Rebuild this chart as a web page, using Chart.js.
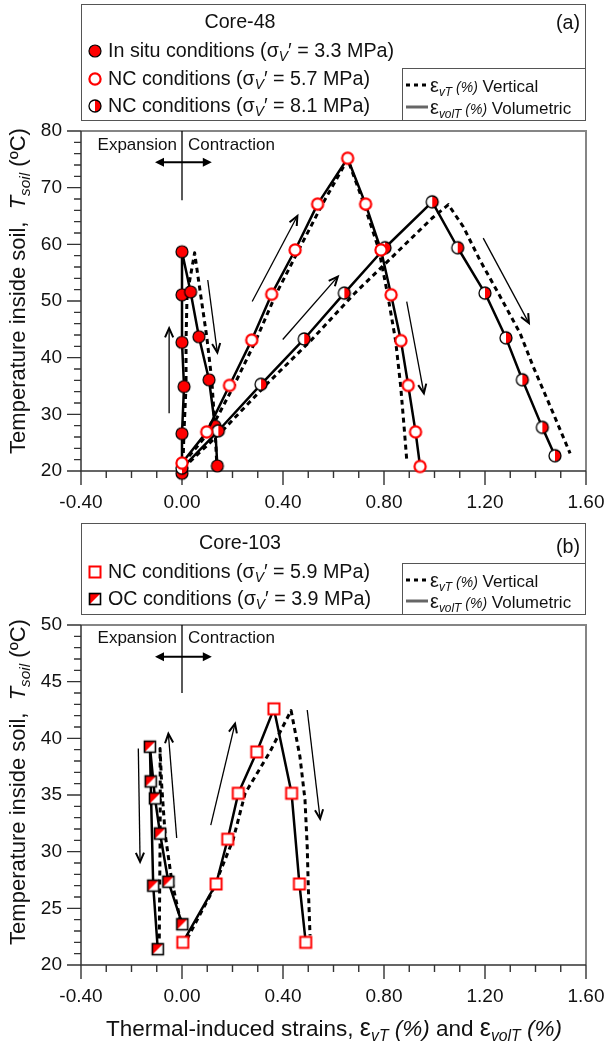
<!DOCTYPE html>
<html><head><meta charset="utf-8">
<script src="https://cdn.jsdelivr.net/npm/chart.js@4.4.1/dist/chart.umd.min.js"></script>
<style>
html,body{margin:0;padding:0;background:#fff}
body{width:605px;height:1046px;position:relative;overflow:hidden;font-family:"Liberation Sans",Arial,sans-serif;color:#111}
canvas{position:absolute;left:0}
.box{position:absolute;box-sizing:border-box;border:1.5px solid #555}
.t{position:absolute;white-space:nowrap;line-height:1;transform:translateY(-50%);font-size:19.7px}
.c{transform:translate(-50%,-50%)}
.s{font-size:0.7em;font-style:italic;position:relative;top:0.32em}
.it{font-style:italic}
.yt{position:absolute;white-space:nowrap;line-height:1;font-size:22px;transform:translate(-50%,-50%) rotate(-90deg)}
.ll{font-size:17px}
.eps{font-size:20px}
.pc{font-size:14px;font-style:italic}
</style></head>
<body>
<canvas id="ca" width="605" height="510" style="top:0"></canvas>
<canvas id="cb" width="605" height="536" style="top:510px"></canvas>

<div class="box" style="left:81px;top:4px;width:505px;height:117px"></div>
<div class="box" style="left:402px;top:68px;width:184px;height:53px"></div>
<div class="t c" style="left:240px;top:22px">Core-48</div>
<div class="t" style="right:25px;top:23px">(a)</div>
<div class="t" style="left:108px;top:51px">In situ conditions (σ<span class="s">V</span>′ = 3.3 MPa)</div>
<div class="t" style="left:108px;top:79px">NC conditions (σ<span class="s">V</span>′ = 5.7 MPa)</div>
<div class="t" style="left:108px;top:106px">NC conditions (σ<span class="s">V</span>′ = 8.1 MPa)</div>
<div class="t ll" style="left:430px;top:85px"><span class="eps">ε</span><span class="s">vT</span><span class="pc"> (%)</span> Vertical</div>
<div class="t ll" style="left:430px;top:107px"><span class="eps">ε</span><span class="s">volT</span><span class="pc"> (%)</span> Volumetric</div>

<div class="box" style="left:81px;top:523px;width:505px;height:92px"></div>
<div class="box" style="left:402px;top:563px;width:184px;height:52px"></div>
<div class="t c" style="left:240px;top:543px">Core-103</div>
<div class="t" style="right:25px;top:547px">(b)</div>
<div class="t" style="left:108px;top:572px">NC conditions (σ<span class="s">V</span>′ = 5.9 MPa)</div>
<div class="t" style="left:108px;top:599px">OC conditions (σ<span class="s">V</span>′ = 3.9 MPa)</div>
<div class="t ll" style="left:430px;top:580px"><span class="eps">ε</span><span class="s">vT</span><span class="pc"> (%)</span> Vertical</div>
<div class="t ll" style="left:430px;top:601px"><span class="eps">ε</span><span class="s">volT</span><span class="pc"> (%)</span> Volumetric</div>

<div class="yt" style="left:18px;top:291px">Temperature inside soil,&nbsp; <span class="it">T</span><span class="s">soil</span> (ºC)</div>
<div class="yt" style="left:18px;top:782px">Temperature inside soil,&nbsp; <span class="it">T</span><span class="s">soil</span> (ºC)</div>
<div class="t c" style="left:334px;top:1028px;font-size:22.5px">Thermal-induced strains, <span class="eps" style="font-size:25px">ε</span><span class="s">vT</span> <span class="it">(%)</span> and <span class="eps" style="font-size:25px">ε</span><span class="s">volT</span> <span class="it">(%)</span></div>

<canvas id="ov" width="605" height="1046" style="top:0;pointer-events:none"></canvas>

<script>
// ---------- data ----------
const xTicks = [-0.4, 0, 0.4, 0.8, 1.2, 1.6];
const yTicksA = [20, 30, 40, 50, 60, 70, 80];
const yTicksB = [20, 25, 30, 35, 40, 45, 50];

// Core-48, in situ (3.3 MPa)
const inSituX  = [0.000, 0.000, 0.008, 0.000, 0.000, 0.000, 0.034, 0.067, 0.107, 0.131, 0.140];
const inSituT  = [19.6, 26.6, 34.9, 42.7, 51.1, 58.7, 51.6, 43.7, 36.1, 27.9, 20.9];
const inSituVX = [0.003, 0.008, 0.016, 0.016, 0.020, 0.050, 0.066, 0.098, 0.118, 0.130, 0.138];
const inSituVT = [20.0, 27.0, 35.0, 43.0, 51.0, 58.5, 53.5, 43.7, 36.0, 28.0, 21.0];
// Core-48, NC (5.7 MPa)
const nc57X  = [0.000, 0.098, 0.188, 0.276, 0.355, 0.448, 0.537, 0.656, 0.727, 0.788, 0.828, 0.867, 0.896, 0.925, 0.943];
const nc57T  = [21.4, 26.9, 35.1, 43.1, 51.2, 59.0, 67.1, 75.2, 67.1, 59.0, 51.1, 43.0, 35.1, 26.9, 20.8];
const nc57VX = [0.005, 0.110, 0.205, 0.292, 0.370, 0.462, 0.555, 0.656, 0.722, 0.780, 0.815, 0.846, 0.866, 0.881, 0.890];
const nc57VT = [21.4, 27.0, 35.0, 43.0, 51.0, 59.0, 67.0, 75.0, 67.0, 59.0, 51.0, 43.0, 35.0, 27.0, 22.0];
// Core-48, NC (8.1 MPa)
const nc81X  = [0.000, 0.144, 0.313, 0.484, 0.643, 0.804, 0.991, 1.092, 1.200, 1.283, 1.348, 1.427, 1.477];
const nc81T  = [20.5, 27.1, 35.3, 43.3, 51.4, 59.4, 67.5, 59.4, 51.4, 43.5, 36.1, 27.7, 22.7];
const nc81VX = [0.005, 0.160, 0.335, 0.510, 0.685, 0.870, 0.990, 1.055, 1.114, 1.180, 1.260, 1.339, 1.391, 1.470, 1.537];
const nc81VT = [20.5, 27.1, 35.3, 43.0, 51.4, 59.4, 64.6, 67.0, 63.1, 57.2, 50.8, 44.3, 38.4, 30.2, 23.1];
// Core-103, NC (5.9 MPa)
const nc59X  = [0.003, 0.135, 0.181, 0.223, 0.296, 0.364, 0.434, 0.465, 0.490];
const nc59T  = [22.0, 27.15, 31.1, 35.15, 38.8, 42.6, 35.15, 27.15, 22.0];
const nc59VX = [0.020, 0.120, 0.203, 0.250, 0.348, 0.432, 0.467, 0.487, 0.496, 0.500, 0.507];
const nc59VT = [22.3, 26.5, 31.1, 35.15, 38.8, 42.45, 38.4, 34.6, 30.4, 27.0, 22.6];
// Core-103, OC (3.9 MPa)
const oc39X  = [0.001, -0.054, -0.087, -0.107, -0.127, -0.124, -0.114, -0.096];
const oc39T  = [23.6, 27.35, 31.6, 34.7, 39.26, 36.2, 27.0, 21.4];
const oc39VX = [-0.005, -0.041, -0.067, -0.080, -0.087, -0.086, -0.087, -0.090];
const oc39VT = [23.8, 27.5, 31.6, 35.7, 39.1, 35.0, 30.4, 22.2];

// annotation arrows [x1, T1, x2, T2] (head at second point)
const arrowsA = [[-0.051, 30.2, -0.051, 45.2], [0.102, 53.7, 0.140, 40.9], [0.278, 49.9, 0.457, 65.0],
                 [0.399, 43.2, 0.617, 54.3], [0.890, 49.9, 0.958, 33.7], [1.193, 61.1, 1.374, 46.1]];
const arrowsB = [[-0.173, 39.1, -0.166, 29.1], [-0.021, 31.2, -0.054, 40.4], [0.114, 32.35, 0.210, 41.3],
                 [0.496, 42.5, 0.547, 32.9]];
// expansion/contraction marker: [vertical line end T, arrow T, text T]
const expA = [67.8, 74.5, 77.4];
const expB = [44.0, 47.2, 48.8];
const expX = [-0.107, 0.118, -0.020, 0.024];

// ---------- drawing ----------
const FONT = "'Liberation Sans', Arial, sans-serif";
const RED = '#ff0000';
function drawMarker(g, kind, cx, cy){
  g.save();
  if (kind === 'inSitu'){
    g.beginPath(); g.arc(cx,cy,6,0,Math.PI*2); g.fillStyle=RED; g.fill();
    g.lineWidth=1.2; g.strokeStyle='#000'; g.stroke();
  } else if (kind === 'nc57'){
    g.beginPath(); g.arc(cx,cy,5.6,0,Math.PI*2); g.fillStyle='#fff'; g.fill();
    g.lineWidth=2.2; g.strokeStyle=RED; g.stroke();
  } else if (kind === 'nc81'){
    g.beginPath(); g.arc(cx,cy,6,0,Math.PI*2); g.fillStyle='#fff'; g.fill();
    g.beginPath(); g.arc(cx,cy,6,-Math.PI/2,Math.PI/2); g.closePath(); g.fillStyle=RED; g.fill();
    g.beginPath(); g.arc(cx,cy,6,0,Math.PI*2); g.lineWidth=1.3; g.strokeStyle='#000'; g.stroke();
  } else if (kind === 'nc59'){
    g.fillStyle='#fff'; g.fillRect(cx-5.5,cy-5.5,11,11);
    g.lineWidth=2; g.strokeStyle=RED; g.strokeRect(cx-5.5,cy-5.5,11,11);
  } else if (kind === 'oc39'){
    const h=5.5;
    g.fillStyle='#fff'; g.fillRect(cx-h,cy-h,2*h,2*h);
    g.beginPath(); g.moveTo(cx-h,cy-h); g.lineTo(cx+h,cy-h); g.lineTo(cx-h,cy+h); g.closePath();
    g.fillStyle=RED; g.fill();
    g.lineWidth=1.6; g.strokeStyle='#000'; g.strokeRect(cx-h,cy-h,2*h,2*h);
  }
  g.restore();
}
function markerImg(kind){
  const c=document.createElement('canvas'); c.width=c.height=18;
  drawMarker(c.getContext('2d'),kind,9,9); return c;
}
const IMG = {};
['inSitu','nc57','nc81','nc59','oc39'].forEach(k=>IMG[k]=markerImg(k));

function pts(xs, ys){ return xs.map((x,i)=>({x:x, y:ys[i]})); }
function solid(xs, ys, img, order){
  return {data:pts(xs,ys), showLine:true, borderColor:'#000', borderWidth:2.5, backgroundColor:'#000',
    pointStyle:img, pointRadius:7, pointHoverRadius:7, clip:false, tension:0, order:order,
    borderJoinStyle:'round'};
}
function dashed(xs, ys){
  return {data:pts(xs,ys), showLine:true, borderColor:'#000', borderWidth:3, borderDash:[5,4],
    pointRadius:0, clip:false, tension:0, order:10, borderJoinStyle:'round'};
}

function arrowV(ctx, x1, y1, x2, y2){
  const a = Math.atan2(y2-y1, x2-x1), h = 10, s = 0.42;
  ctx.lineWidth = 1.3;
  ctx.beginPath(); ctx.moveTo(x1,y1); ctx.lineTo(x2,y2); ctx.stroke();
  ctx.lineWidth = 2;
  ctx.beginPath();
  ctx.moveTo(x2 - h*Math.cos(a-s), y2 - h*Math.sin(a-s)); ctx.lineTo(x2,y2);
  ctx.lineTo(x2 - h*Math.cos(a+s), y2 - h*Math.sin(a+s));
  ctx.stroke();
}
function triHead(ctx, x, y, dir){
  ctx.beginPath(); ctx.moveTo(x,y); ctx.lineTo(x-dir*9,y-4.5); ctx.lineTo(x-dir*9,y+4.5); ctx.closePath(); ctx.fill();
}

const decoPlugin = {
  id:'deco',
  beforeDatasetsDraw(chart){
    const o = chart.options.plugins.deco;
    const {ctx, chartArea:a, scales:{x, y}} = chart;
    ctx.save();
    // frame
    ctx.strokeStyle='#858585'; ctx.lineWidth=2;
    ctx.beginPath(); ctx.moveTo(a.left, a.top); ctx.lineTo(a.right, a.top); ctx.lineTo(a.right, a.bottom); ctx.stroke();
    ctx.strokeStyle='#333'; ctx.lineWidth=1.5;
    ctx.beginPath(); ctx.moveTo(a.left, a.top); ctx.lineTo(a.left, a.bottom); ctx.lineTo(a.right, a.bottom); ctx.stroke();
    // ticks
    ctx.lineWidth=1.4;
    ctx.beginPath();
    for (let i=0;i<=20;i++){
      const px = x.getPixelForValue(-0.4 + i*0.1);
      const len = (i%4===0) ? 14 : 7;
      ctx.moveTo(px, a.bottom); ctx.lineTo(px, a.bottom+len);
    }
    const ymin = y.min, ymax = y.max;
    const n = Math.round((ymax-ymin)/o.yMinor);
    for (let i=0;i<=n;i++){
      const v = ymin + i*o.yMinor, py = y.getPixelForValue(v);
      const major = Math.abs(((v-ymin)/o.yMajor) - Math.round((v-ymin)/o.yMajor)) < 1e-6;
      ctx.moveTo(a.left - (major?14:7), py); ctx.lineTo(a.left, py);
    }
    ctx.stroke();
    // expansion / contraction
    const e = o.exp;
    const x0 = x.getPixelForValue(0);
    ctx.strokeStyle='#000'; ctx.fillStyle='#000'; ctx.lineWidth=1.3;
    ctx.beginPath(); ctx.moveTo(x0, a.top); ctx.lineTo(x0, y.getPixelForValue(e[0])); ctx.stroke();
    const ay = y.getPixelForValue(e[1]);
    const xl = x.getPixelForValue(expX[0]), xr = x.getPixelForValue(expX[1]);
    ctx.lineWidth=2;
    ctx.beginPath(); ctx.moveTo(xl+6, ay); ctx.lineTo(xr-6, ay); ctx.stroke();
    triHead(ctx, xl, ay, -1); triHead(ctx, xr, ay, 1);
    ctx.font = '17px ' + FONT; ctx.textBaseline='middle'; ctx.fillStyle='#111';
    const ty = y.getPixelForValue(e[2]);
    ctx.textAlign='right'; ctx.fillText('Expansion', x.getPixelForValue(expX[2]), ty);
    ctx.textAlign='left'; ctx.fillText('Contraction', x.getPixelForValue(expX[3]), ty);
    // arrows
    ctx.strokeStyle='#000';
    o.arrows.forEach(r=>arrowV(ctx, x.getPixelForValue(r[0]), y.getPixelForValue(r[1]),
                                    x.getPixelForValue(r[2]), y.getPixelForValue(r[3])));
    ctx.restore();
  }
};

function opts(yMin, yMax, yTicks, xH, padTop, deco){
  return {
    responsive:false, animation:false, events:[],
    layout:{padding:{top:padTop, right:19, left:0, bottom:0}},
    plugins:{legend:{display:false}, tooltip:{enabled:false}, deco:deco},
    scales:{
      x:{type:'linear', min:-0.4, max:1.6,
        afterBuildTicks:s=>{ s.ticks = xTicks.map(v=>({value:v})); },
        afterFit:s=>{ s.height = xH; s.paddingLeft = 0; s.paddingRight = 0; },
        ticks:{callback:v=>Number(v).toFixed(2), font:{family:FONT, size:19}, color:'#111', padding:20, maxRotation:0, autoSkip:false},
        grid:{display:false, drawTicks:false}, border:{display:false}},
      y:{type:'linear', min:yMin, max:yMax,
        afterBuildTicks:s=>{ s.ticks = yTicks.map(v=>({value:v})); },
        afterFit:s=>{ s.width = 81; s.paddingTop = 0; s.paddingBottom = 0; },
        ticks:{callback:v=>String(v), font:{family:FONT, size:19}, color:'#111', padding:19, autoSkip:false},
        grid:{display:false, drawTicks:false}, border:{display:false}}
    }
  };
}

new Chart(document.getElementById('ca'), {
  type:'scatter',
  data:{datasets:[
    dashed(inSituVX, inSituVT), dashed(nc57VX, nc57VT), dashed(nc81VX, nc81VT),
    solid(inSituX, inSituT, IMG.inSitu, 3), solid(nc81X, nc81T, IMG.nc81, 2), solid(nc57X, nc57T, IMG.nc57, 1)
  ]},
  options: opts(20, 80, yTicksA, 39, 131, {yMinor:2, yMajor:10, arrows:arrowsA, exp:expA}),
  plugins:[decoPlugin]
});

new Chart(document.getElementById('cb'), {
  type:'scatter',
  data:{datasets:[
    dashed(nc59VX, nc59VT), dashed(oc39VX, oc39VT),
    solid(nc59X, nc59T, IMG.nc59, 2), solid(oc39X, oc39T, IMG.oc39, 1)
  ]},
  options: opts(20, 50, yTicksB, 81, 115, {yMinor:1, yMajor:5, arrows:arrowsB, exp:expB}),
  plugins:[decoPlugin]
});

// legend symbols
(function(){
  const g = document.getElementById('ov').getContext('2d');
  drawMarker(g,'inSitu',95,51); drawMarker(g,'nc57',95,79); drawMarker(g,'nc81',95,106);
  drawMarker(g,'nc59',95,572); drawMarker(g,'oc39',95,599);
  function samp(y, dash){
    g.save(); g.lineWidth = 3; g.strokeStyle = dash ? '#000' : '#666';
    if (dash) g.setLineDash([4,4]);
    g.beginPath(); g.moveTo(406,y); g.lineTo(428,y); g.stroke(); g.restore();
  }
  samp(85,true); samp(107,false); samp(580,true); samp(601,false);
})();
</script>
</body></html>
